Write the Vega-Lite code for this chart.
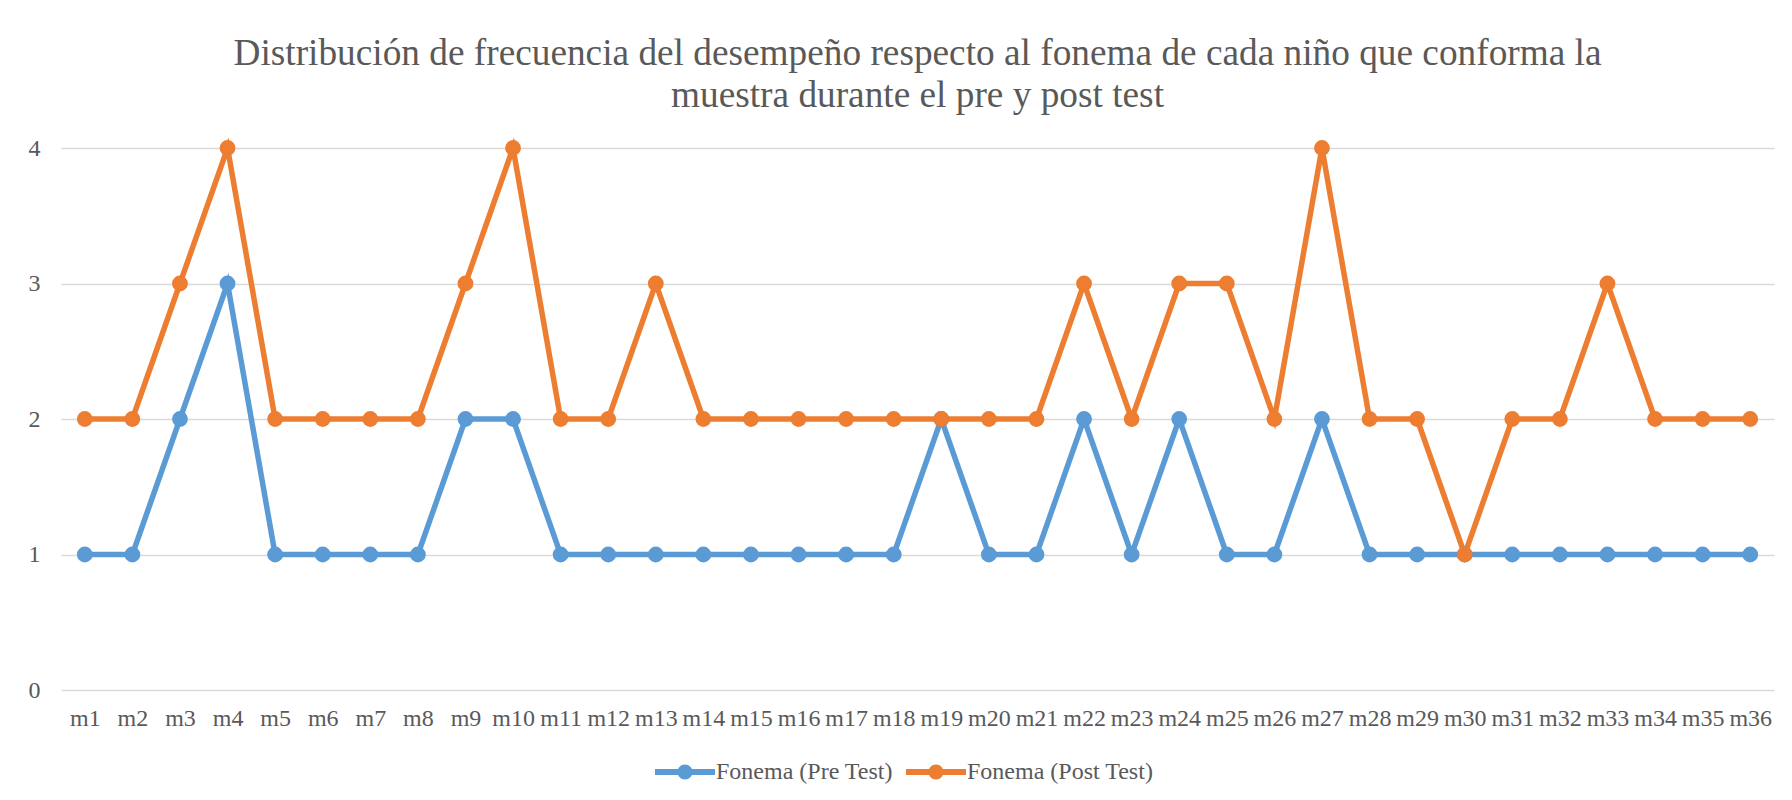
{
  "$schema": "https://vega.github.io/schema/vega-lite/v6.json",
  "width": 1713,
  "height": 542,
  "autosize": "none",
  "padding": {"left": 61, "top": 148, "right": 18, "bottom": 110},
  "background": "white",
  "title": {
    "text": ["Distribución de frecuencia del desempeño respecto al fonema de cada niño que conforma la", "muestra durante el pre y post test"],
    "font": "Liberation Serif",
    "fontSize": 37.3,
    "fontWeight": "normal",
    "color": "#595959",
    "anchor": "middle",
    "offset": 21,
    "lineHeight": 42
  },
  "data": {
    "values": [
      {"m": "m1", "serie": "Fonema (Pre Test)", "v": 1},
      {"m": "m2", "serie": "Fonema (Pre Test)", "v": 1},
      {"m": "m3", "serie": "Fonema (Pre Test)", "v": 2},
      {"m": "m4", "serie": "Fonema (Pre Test)", "v": 3},
      {"m": "m5", "serie": "Fonema (Pre Test)", "v": 1},
      {"m": "m6", "serie": "Fonema (Pre Test)", "v": 1},
      {"m": "m7", "serie": "Fonema (Pre Test)", "v": 1},
      {"m": "m8", "serie": "Fonema (Pre Test)", "v": 1},
      {"m": "m9", "serie": "Fonema (Pre Test)", "v": 2},
      {"m": "m10", "serie": "Fonema (Pre Test)", "v": 2},
      {"m": "m11", "serie": "Fonema (Pre Test)", "v": 1},
      {"m": "m12", "serie": "Fonema (Pre Test)", "v": 1},
      {"m": "m13", "serie": "Fonema (Pre Test)", "v": 1},
      {"m": "m14", "serie": "Fonema (Pre Test)", "v": 1},
      {"m": "m15", "serie": "Fonema (Pre Test)", "v": 1},
      {"m": "m16", "serie": "Fonema (Pre Test)", "v": 1},
      {"m": "m17", "serie": "Fonema (Pre Test)", "v": 1},
      {"m": "m18", "serie": "Fonema (Pre Test)", "v": 1},
      {"m": "m19", "serie": "Fonema (Pre Test)", "v": 2},
      {"m": "m20", "serie": "Fonema (Pre Test)", "v": 1},
      {"m": "m21", "serie": "Fonema (Pre Test)", "v": 1},
      {"m": "m22", "serie": "Fonema (Pre Test)", "v": 2},
      {"m": "m23", "serie": "Fonema (Pre Test)", "v": 1},
      {"m": "m24", "serie": "Fonema (Pre Test)", "v": 2},
      {"m": "m25", "serie": "Fonema (Pre Test)", "v": 1},
      {"m": "m26", "serie": "Fonema (Pre Test)", "v": 1},
      {"m": "m27", "serie": "Fonema (Pre Test)", "v": 2},
      {"m": "m28", "serie": "Fonema (Pre Test)", "v": 1},
      {"m": "m29", "serie": "Fonema (Pre Test)", "v": 1},
      {"m": "m30", "serie": "Fonema (Pre Test)", "v": 1},
      {"m": "m31", "serie": "Fonema (Pre Test)", "v": 1},
      {"m": "m32", "serie": "Fonema (Pre Test)", "v": 1},
      {"m": "m33", "serie": "Fonema (Pre Test)", "v": 1},
      {"m": "m34", "serie": "Fonema (Pre Test)", "v": 1},
      {"m": "m35", "serie": "Fonema (Pre Test)", "v": 1},
      {"m": "m36", "serie": "Fonema (Pre Test)", "v": 1},
      {"m": "m1", "serie": "Fonema (Post Test)", "v": 2},
      {"m": "m2", "serie": "Fonema (Post Test)", "v": 2},
      {"m": "m3", "serie": "Fonema (Post Test)", "v": 3},
      {"m": "m4", "serie": "Fonema (Post Test)", "v": 4},
      {"m": "m5", "serie": "Fonema (Post Test)", "v": 2},
      {"m": "m6", "serie": "Fonema (Post Test)", "v": 2},
      {"m": "m7", "serie": "Fonema (Post Test)", "v": 2},
      {"m": "m8", "serie": "Fonema (Post Test)", "v": 2},
      {"m": "m9", "serie": "Fonema (Post Test)", "v": 3},
      {"m": "m10", "serie": "Fonema (Post Test)", "v": 4},
      {"m": "m11", "serie": "Fonema (Post Test)", "v": 2},
      {"m": "m12", "serie": "Fonema (Post Test)", "v": 2},
      {"m": "m13", "serie": "Fonema (Post Test)", "v": 3},
      {"m": "m14", "serie": "Fonema (Post Test)", "v": 2},
      {"m": "m15", "serie": "Fonema (Post Test)", "v": 2},
      {"m": "m16", "serie": "Fonema (Post Test)", "v": 2},
      {"m": "m17", "serie": "Fonema (Post Test)", "v": 2},
      {"m": "m18", "serie": "Fonema (Post Test)", "v": 2},
      {"m": "m19", "serie": "Fonema (Post Test)", "v": 2},
      {"m": "m20", "serie": "Fonema (Post Test)", "v": 2},
      {"m": "m21", "serie": "Fonema (Post Test)", "v": 2},
      {"m": "m22", "serie": "Fonema (Post Test)", "v": 3},
      {"m": "m23", "serie": "Fonema (Post Test)", "v": 2},
      {"m": "m24", "serie": "Fonema (Post Test)", "v": 3},
      {"m": "m25", "serie": "Fonema (Post Test)", "v": 3},
      {"m": "m26", "serie": "Fonema (Post Test)", "v": 2},
      {"m": "m27", "serie": "Fonema (Post Test)", "v": 4},
      {"m": "m28", "serie": "Fonema (Post Test)", "v": 2},
      {"m": "m29", "serie": "Fonema (Post Test)", "v": 2},
      {"m": "m30", "serie": "Fonema (Post Test)", "v": 1},
      {"m": "m31", "serie": "Fonema (Post Test)", "v": 2},
      {"m": "m32", "serie": "Fonema (Post Test)", "v": 2},
      {"m": "m33", "serie": "Fonema (Post Test)", "v": 3},
      {"m": "m34", "serie": "Fonema (Post Test)", "v": 2},
      {"m": "m35", "serie": "Fonema (Post Test)", "v": 2},
      {"m": "m36", "serie": "Fonema (Post Test)", "v": 2}
    ]
  },
  "mark": {
    "type": "line",
    "strokeWidth": 5.5,
    "point": {"filled": true, "size": 250, "opacity": 1}
  },
  "encoding": {
    "x": {
      "field": "m",
      "type": "nominal",
      "sort": null,
      "scale": {"padding": 0.5},
      "axis": {
        "title": null,
        "labelAngle": 0,
        "labelPadding": 16,
        "ticks": false,
        "domain": false,
        "grid": false,
        "labelOverlap": false
      }
    },
    "y": {
      "field": "v",
      "type": "quantitative",
      "scale": {"domain": [0, 4], "nice": false},
      "axis": {
        "title": null,
        "values": [0, 1, 2, 3, 4],
        "labelPadding": 21,
        "ticks": false,
        "domain": false,
        "grid": true,
        "gridColor": "#d9d9d9",
        "gridWidth": 1.5
      }
    },
    "color": {
      "field": "serie",
      "type": "nominal",
      "sort": ["Fonema (Pre Test)", "Fonema (Post Test)"],
      "scale": {"domain": ["Fonema (Pre Test)", "Fonema (Post Test)"], "range": ["#5B9BD5", "#ED7D31"]},
      "legend": {
        "title": null,
        "orient": "none",
        "direction": "horizontal",
        "legendX": 594,
        "legendY": 594,
        "symbolType": "M-1,-0.1H1V0.1H-1Z M-0.25,0A0.25,0.25 0 1,1 0.25,0A0.25,0.25 0 1,1 -0.25,0Z",
        "symbolSize": 3600,
        "symbolStrokeWidth": 0,
        "labelLimit": 0,
        "labelOffset": 1,
        "columnPadding": 13
      }
    }
  },
  "config": {
    "font": "Liberation Serif",
    "view": {"stroke": null},
    "axis": {"labelFont": "Liberation Serif", "labelFontSize": 24, "labelColor": "#595959"},
    "legend": {"labelFont": "Liberation Serif", "labelFontSize": 24, "labelColor": "#595959"},
    "title": {"font": "Liberation Serif"}
  }
}
